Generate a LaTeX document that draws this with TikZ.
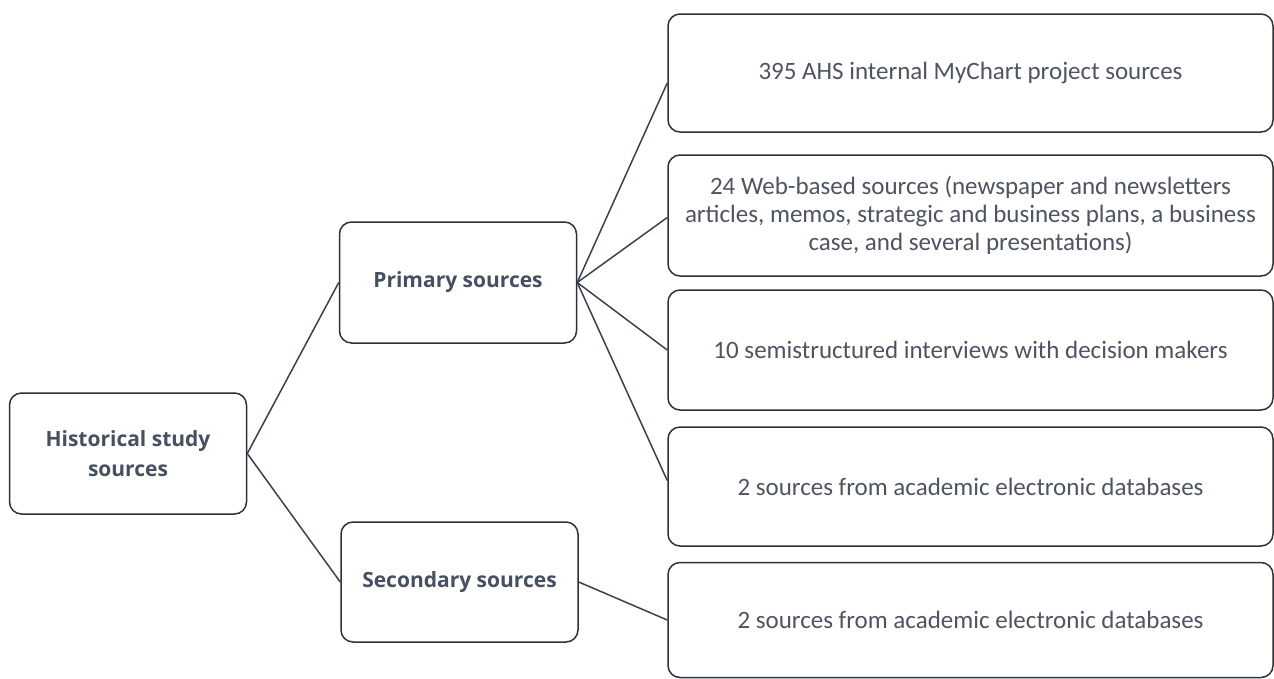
\documentclass[tikz,border=0pt]{standalone}
\usepackage{fontspec}
\setmainfont{Carlito}
\newfontfamily\headfont{Open Sans}
\definecolor{txt}{HTML}{4E5461}
\definecolor{headtxt}{HTML}{465061}
\definecolor{boxc}{HTML}{2E3238}
\definecolor{linec}{HTML}{3A4150}
\begin{document}
\begin{tikzpicture}[x=1pt,y=-1pt,
  box/.style={draw=boxc, line width=1.5pt, rounded corners=12pt, fill=white, inner sep=0pt, anchor=center},
  lbox/.style={box, minimum width=237pt, minimum height=121pt, font=\headfont\bfseries\fontsize{21}{30}\selectfont, text=headtxt, align=center},
  rbox/.style={box, minimum width=605pt, minimum height=119pt, font=\fontsize{25}{28}\selectfont, text=txt, align=center},
  link/.style={draw=linec, line width=1.5pt}]
\useasboundingbox (0,0) rectangle (1274,678);
\node[lbox] (hist) at (128,453.5) {Historical study\\sources};
\node[lbox] (prim) at (458,282.5) {Primary sources};
\node[lbox, minimum height=120pt] (sec) at (459.5,582) {Secondary sources};
\node[rbox, minimum height=118pt] (b1) at (970.5,73) {395 AHS internal MyChart project sources};
\node[rbox, minimum height=121pt] (b2) at (970.5,215.5) {24 Web-based sources (newspaper and newsletters\\articles, memos, strategic and business plans, a business\\case, and several presentations)};
\node[rbox, minimum height=120pt] (b3) at (970.5,350) {10 semistructured interviews with decision makers};
\node[rbox] (b4) at (970.5,486.5) {2 sources from academic electronic databases};
\node[rbox, minimum height=115pt] (b5) at (970.5,620) {2 sources from academic electronic databases};
\draw[link] (hist.east) -- (prim.west);
\draw[link] (hist.east) -- (sec.west);
\draw[link] (prim.east) -- ([yshift=-10pt]b1.west);
\draw[link] (prim.east) -- ([yshift=-2pt]b2.west);
\draw[link] (prim.east) -- (b3.west);
\draw[link] (prim.east) -- ([yshift=6pt]b4.west);
\draw[link] (sec.east) -- (b5.west);
\end{tikzpicture}
\end{document}
